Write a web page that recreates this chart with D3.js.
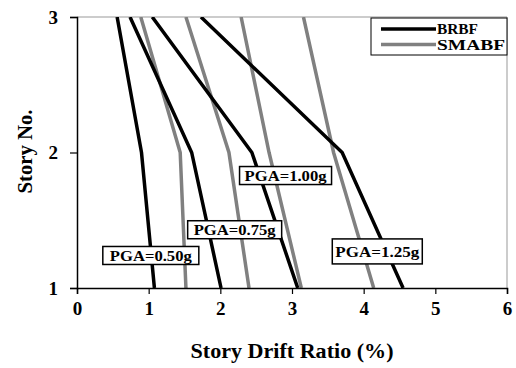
<!DOCTYPE html>
<html>
<head>
<meta charset="utf-8">
<script src="https://cdn.jsdelivr.net/npm/d3@7"></script>
<style>
  body { margin: 0; background: #fff; }
  text { font-family: "Liberation Serif", "Times New Roman", serif; font-weight: bold; }
</style>
</head>
<body>
<div id="chart"></div>
<script>
// story levels and drift ratios (%)
const stories = [1, 2, 3];
const pgaLevels = ["0.50", "0.75", "1.00", "1.25"];
const brbfDrift = [
  [1.08, 0.90, 0.56],
  [2.01, 1.60, 0.74],
  [3.08, 2.44, 1.05],
  [4.55, 3.70, 1.73]
];
const smabfDrift = [
  [1.52, 1.44, 0.89],
  [2.40, 2.12, 1.52],
  [3.13, 2.68, 2.29],
  [4.14, 3.58, 3.16]
];
const xTicks = [0, 1, 2, 3, 4, 5, 6];
// label anchor points in data units (drift, story)
const labelAnchors = [[1.03, 1.24], [2.20, 1.43], [2.91, 1.83], [4.19, 1.27]];

const margin = {top: 17, right: 9, bottom: 80, left: 77};
const W = 516, H = 368;
const width = W - margin.left - margin.right;
const height = H - margin.top - margin.bottom;

const svg = d3.select("#chart").append("svg")
  .attr("width", W).attr("height", H);
const g = svg.append("g").attr("transform", `translate(${margin.left},${margin.top})`);

const x = d3.scaleLinear().domain([0, 6]).range([0, width]);
const y = d3.scaleLinear().domain([1, 3]).range([height, 0]);

// frame: top and right in grey
g.append("line").attr("x1", 0).attr("x2", width).attr("y1", 0).attr("y2", 0)
  .attr("stroke", "#999").attr("stroke-width", 1);
g.append("line").attr("x1", width).attr("x2", width).attr("y1", 0).attr("y2", height)
  .attr("stroke", "#999").attr("stroke-width", 1);

g.append("clipPath").attr("id", "clip").append("rect")
  .attr("width", width).attr("height", height);

const line = d3.line().x(d => x(d[0])).y(d => y(d[1]));

const series = [
  {vals: smabfDrift, color: "#808080"},
  {vals: brbfDrift, color: "#000"}
];
series.forEach(s => {
  g.append("g").attr("clip-path", "url(#clip)")
    .selectAll("path")
    .data(s.vals)
    .join("path")
    .attr("d", v => line(v.map((d, i) => [d, stories[i]])))
    .attr("fill", "none")
    .attr("stroke", s.color)
    .attr("stroke-width", 3.5)
    .attr("stroke-linejoin", "miter");
});

// axes
const xAxis = g.append("g").attr("transform", `translate(0,${height})`)
  .call(d3.axisBottom(x).tickValues(xTicks).tickSize(6).tickPadding(6).tickFormat(d3.format("d")));
const yAxis = g.append("g")
  .call(d3.axisLeft(y).tickValues(stories).tickSize(7).tickPadding(12).tickFormat(d3.format("d")));
[xAxis, yAxis].forEach(a => {
  a.select(".domain").attr("stroke", "#000").attr("stroke-width", 1.5);
  a.selectAll(".tick line").attr("stroke", "#000").attr("stroke-width", 1.2);
  a.selectAll("text").attr("font-family", null).style("font-size", "19px").attr("fill", "#000");
});
xAxis.selectAll(".tick text").attr("dy", "0.8em");
yAxis.selectAll(".tick text").attr("dy", "0.33em");

g.append("text")
  .attr("x", x(3)).attr("y", height + 70)
  .attr("text-anchor", "middle").style("font-size", "20px")
  .attr("textLength", 203).attr("lengthAdjust", "spacingAndGlyphs")
  .text("Story Drift Ratio (%)");
g.append("text")
  .attr("transform", `translate(${32 - margin.left},${y(2) - 1}) rotate(-90)`)
  .attr("text-anchor", "middle").style("font-size", "20px")
  .attr("textLength", 84).attr("lengthAdjust", "spacingAndGlyphs")
  .text("Story No.");

// PGA labels
labelAnchors.forEach((a, i) => {
  const lg = g.append("g").attr("transform", `translate(${x(a[0])},${y(a[1])})`);
  const bw = i === 3 ? 90 : (i === 2 ? 92 : (i === 1 ? 94 : 96));
  const bh = i === 3 ? 25 : 18;
  lg.append("rect").attr("x", -bw / 2).attr("y", -bh / 2).attr("width", bw).attr("height", bh)
    .attr("fill", "#fff").attr("stroke", "#000").attr("stroke-width", 1.5);
  lg.append("text").attr("text-anchor", "middle").attr("dy", "0.35em")
    .style("font-size", "15px")
    .attr("textLength", i === 3 ? 84 : 82).attr("lengthAdjust", "spacingAndGlyphs")
    .text(`PGA=${pgaLevels[i]}g`);
});

// legend
const leg = svg.append("g").attr("transform", "translate(371,18)");
leg.append("rect").attr("width", 136).attr("height", 37)
  .attr("fill", "#fff").attr("stroke", "#000").attr("stroke-width", 1);
[["BRBF", "#000", 11, 41], ["SMABF", "#808080", 26.5, 68]].forEach(([name, c, yy, tl]) => {
  leg.append("line").attr("x1", 10).attr("x2", 65).attr("y1", yy).attr("y2", yy)
    .attr("stroke", c).attr("stroke-width", 3.5);
  leg.append("text").attr("x", 66).attr("y", yy).attr("dy", "0.35em")
    .style("font-size", "15px")
    .attr("textLength", tl).attr("lengthAdjust", "spacingAndGlyphs")
    .text(name);
});
</script>
</body>
</html>
